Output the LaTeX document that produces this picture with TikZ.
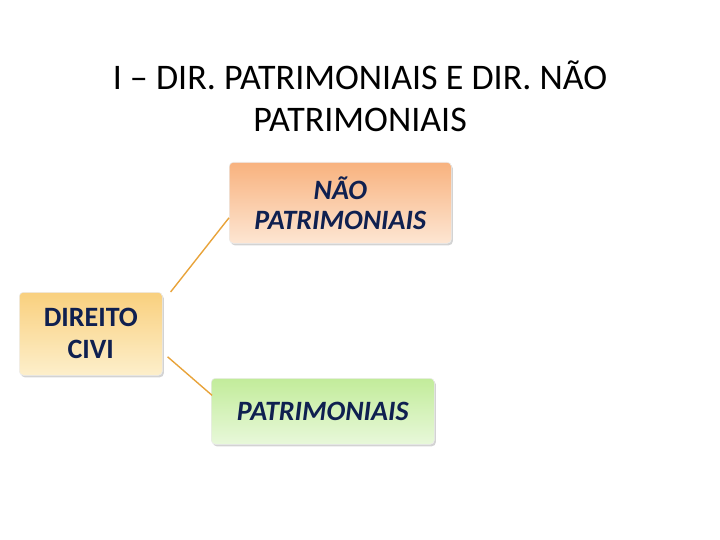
\documentclass[tikz,border=0pt]{standalone}
\usepackage{fontspec}
\setmainfont{Carlito}
\usetikzlibrary{shadows,calc}
\definecolor{navy}{HTML}{0F2050}
\definecolor{orgtop}{HTML}{F8B27E}
\definecolor{orgbot}{HTML}{FDE6D3}
\definecolor{yeltop}{HTML}{F9D07E}
\definecolor{yelbot}{HTML}{FDEFCB}
\definecolor{grntop}{HTML}{C2EC9A}
\definecolor{grnbot}{HTML}{E8F8DA}
\definecolor{linec}{HTML}{E8A33A}
\tikzset{
  box/.style={rounded corners=4pt, draw=white!85!gray, line width=0.6pt,
    drop shadow={shadow xshift=1.5pt, shadow yshift=-2pt, opacity=0.35, fill=gray},
    align=center, text=navy, inner sep=0pt, anchor=north west},
  childtxt/.style={font=\fontsize{28}{30}\selectfont\bfseries\itshape},
  roottxt/.style={font=\fontsize{28}{32}\selectfont\bfseries},
  conn/.style={draw=linec, line width=1.4pt}
}
\begin{document}
\begin{tikzpicture}[x=1pt,y=-1pt]
\useasboundingbox (0,0) rectangle (720,540);
\node[font=\fontsize{36}{42}\selectfont, align=center] (title) at (360,96)
  {I – DIR. PATRIMONIAIS E DIR. NÃO\\PATRIMONIAIS};
\node[box, childtxt, top color=orgtop, bottom color=orgbot,
  minimum width=222pt, minimum height=81pt] (nao) at (229,162)
  {NÃO\\PATRIMONIAIS};
\node[box, roottxt, top color=yeltop, bottom color=yelbot,
  minimum width=143pt, minimum height=83pt] (root) at (19,292)
  {DIREITO\\CIVI};
\node[box, childtxt, top color=grntop, bottom color=grnbot,
  minimum width=223pt, minimum height=66pt] (pat) at (211,378)
  {PATRIMONIAIS};
\draw[conn] ($(root.north east)+(8,0)$) -- ($(nao.west)+(0,15)$);
\draw[conn] ($(root.east)+(5,23)$) -- ($(pat.west)+(1,-16)$);
\end{tikzpicture}
\end{document}
